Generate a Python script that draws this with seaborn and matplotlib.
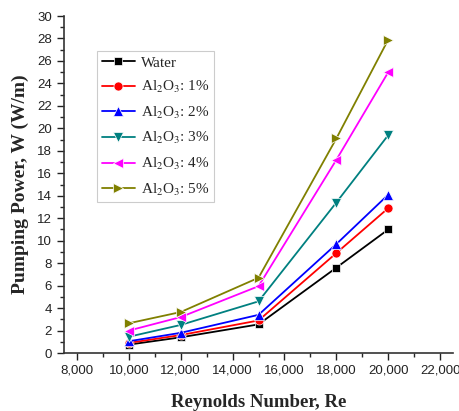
import pandas as pd
import numpy as np
import matplotlib.pyplot as plt
import matplotlib.ticker as mticker
import seaborn as sns

# Reynolds numbers and pumping power (W/m)
reynolds = [10000, 12000, 15000, 18000, 20000]
water = [0.75, 1.4, 2.55, 7.6, 11.0]
al2o3_1 = [0.9, 1.6, 2.9, 8.9, 12.9]
al2o3_2 = [1.05, 1.8, 3.4, 9.7, 14.1]
al2o3_3 = [1.45, 2.5, 4.6, 13.4, 19.4]
al2o3_4 = [2.0, 3.2, 5.95, 17.2, 25.0]
al2o3_5 = [2.65, 3.65, 6.7, 19.1, 27.9]

series_names = ['Water', 'Al$_2$O$_3$: 1%', 'Al$_2$O$_3$: 2%',
                'Al$_2$O$_3$: 3%', 'Al$_2$O$_3$: 4%', 'Al$_2$O$_3$: 5%']
series_values = [water, al2o3_1, al2o3_2, al2o3_3, al2o3_4, al2o3_5]
colors = ['black', 'red', 'blue', '#008080', 'magenta', '#808000']
markers = ['s', 'o', '^', 'v', '<', '>']

# long-format table for seaborn
df = pd.DataFrame({
    'Re': reynolds * len(series_names),
    'W': sum(series_values, []),
    'Fluid': np.repeat(series_names, len(reynolds)),
})

sns.set_style('ticks')
plt.rcParams['font.family'] = ['Liberation Sans', 'DejaVu Sans']
plt.rcParams['mathtext.fontset'] = 'stix'

fig = plt.figure(figsize=(4.6, 4.11), dpi=100)
ax = fig.add_axes([0.139, 0.141, 0.846, 0.82])

sns.lineplot(ax=ax, data=df, x='Re', y='W', hue='Fluid', style='Fluid',
             palette=colors, markers=markers, dashes=False,
             markersize=6.5, linewidth=1.3, markeredgewidth=0.5)

# the square reads a little smaller than the other markers
for line in ax.get_lines():
    if line.get_marker() == 's':
        line.set_markersize(5.5)

ax.set_xlim(7500, 22500)
ax.set_ylim(0, 30)
ax.xaxis.set_major_locator(mticker.MultipleLocator(2000))
ax.xaxis.set_minor_locator(mticker.MultipleLocator(1000))
ax.yaxis.set_major_locator(mticker.MultipleLocator(2))
ax.yaxis.set_minor_locator(mticker.MultipleLocator(1))
ax.xaxis.set_major_formatter(mticker.FuncFormatter(lambda v, p: f'{int(v):,}'))
ax.tick_params(which='major', length=5, width=1, labelsize=9.5, colors='#222222')
ax.tick_params(which='minor', length=3, width=1)
for side in ['top', 'right']:
    ax.spines[side].set_visible(False)
for side in ['left', 'bottom']:
    ax.spines[side].set_linewidth(1.2)
    ax.spines[side].set_color('#333333')

ax.set_xlabel('Reynolds Number, Re', family='Liberation Serif',
              fontweight='bold', fontsize=13.5, labelpad=12)
ax.set_ylabel('Pumping Power, W (W/m)', family='Liberation Serif',
              fontweight='bold', fontsize=14, labelpad=6)

leg = ax.legend(loc='upper left', bbox_to_anchor=(0.085, 0.895), borderaxespad=0,
                prop={'family': 'Liberation Serif', 'size': 11},
                handlelength=2.2, handletextpad=0.35, labelspacing=0.62,
                borderpad=0.3, fancybox=False,
                edgecolor='#cccccc', framealpha=1, title=None)
leg.get_frame().set_linewidth(0.8)
for h in leg.legend_handles:
    if h.get_marker() == 's':
        h.set_markersize(5.5)

plt.savefig('out.png', dpi=100)
